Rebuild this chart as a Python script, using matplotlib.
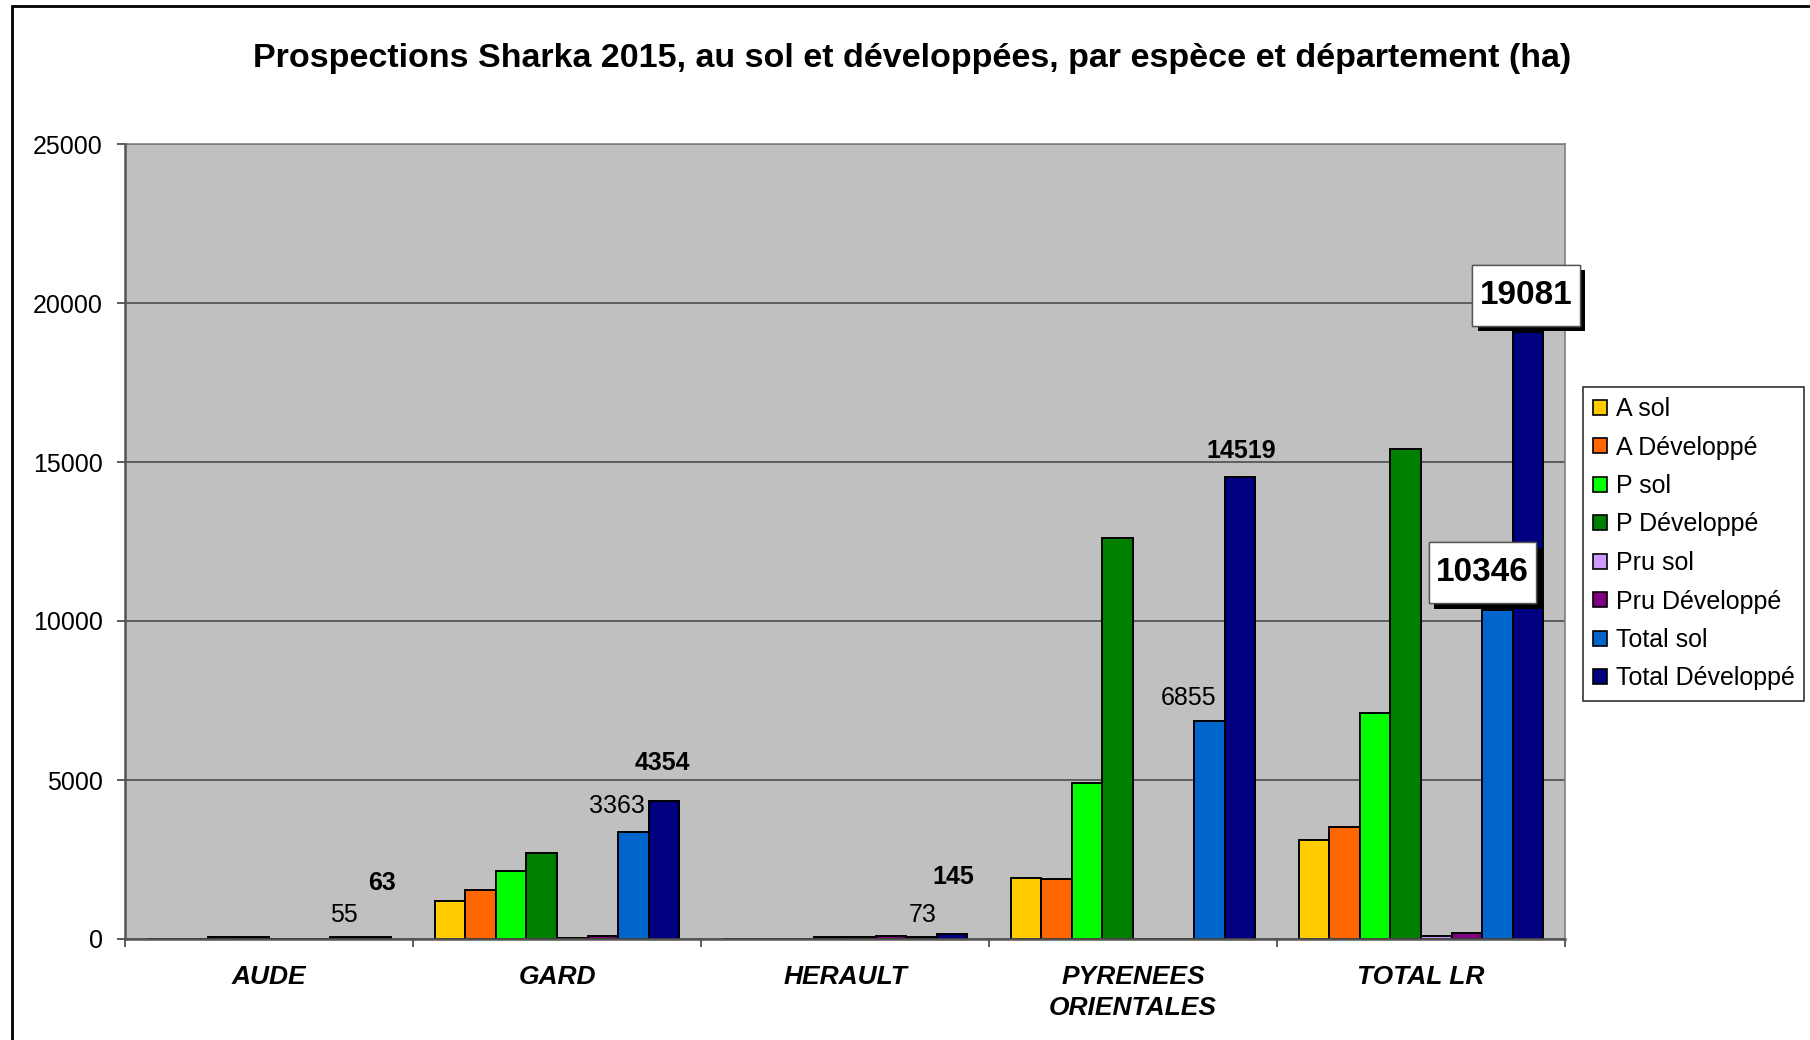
import matplotlib
matplotlib.use('Agg')
import matplotlib.pyplot as plt
import matplotlib.patches as mpatches
import matplotlib.patheffects as pe
from matplotlib.path import Path
import numpy as np

plt.rcParams['font.family'] = ['Liberation Sans', 'DejaVu Sans']

departements = ['AUDE', 'GARD', 'HERAULT', 'PYRENEES\nORIENTALES', 'TOTAL LR']

series_names = ['A sol', 'A Développé', 'P sol', 'P Développé',
                'Pru sol', 'Pru Développé', 'Total sol', 'Total Développé']
a_sol = [0, 1190, 0, 1910, 3100]
a_dev = [0, 1540, 0, 1900, 3510]
p_sol = [55, 2150, 0, 4910, 7120]
p_dev = [63, 2690, 50, 12600, 15420]
pru_sol = [0, 30, 73, 0, 100]
pru_dev = [0, 90, 95, 0, 190]
total_sol = [55, 3363, 73, 6855, 10346]
total_dev = [63, 4354, 145, 14519, 19081]

colors = ['#FFCC00', '#FF6600', '#00FF00', '#008000',
          '#CC99FF', '#800080', '#0066CC', '#000080']

# label offsets in pixels (dx, dy) relative to top centre of the bar
sol_offsets = [(-2, 22), (-17, 26), (1, 22), (-21, 23), (-15, 37)]
dev_offsets = [(6, 54), (-2, 38), (1, 57), (1, 26), (-2, 37)]

W, H = 1810, 1040


def label_box(x0, y0, width, height, mutation_size):
    # square box with more padding vertically than horizontally
    px = 0.22 * mutation_size
    py = 0.45 * mutation_size
    x0, y0 = x0 - px, y0 - py
    x1, y1 = x0 + width + 2 * px, y0 + height + 2 * py
    return Path([(x0, y0), (x1, y0), (x1, y1), (x0, y1), (x0, y0)],
                closed=True)


def main() -> None:
    fig = plt.figure(figsize=(W / 100, H / 100), dpi=100)
    ax = fig.add_axes([125 / W, 1 - 939 / H, 1440 / W, 795 / H])
    ax.set_facecolor('#C0C0C0')

    data = [a_sol, a_dev, p_sol, p_dev, pru_sol, pru_dev, total_sol, total_dev]
    n = len(data)
    width = 0.85 / n
    x = np.arange(len(departements)) + 0.5

    bars = []
    for i, (vals, col, name) in enumerate(zip(data, colors, series_names)):
        pos = x - 0.425 + width * (i + 0.5)
        b = ax.bar(pos, vals, width, color=col, edgecolor='black',
                   linewidth=1.4, label=name, zorder=3)
        bars.append(b)

    # data labels on totals
    for j in range(len(departements)):
        for k, (vals, offs) in enumerate([(total_sol, sol_offsets), (total_dev, dev_offsets)]):
            rect = bars[6 + k][j]
            cx = rect.get_x() + rect.get_width() / 2
            txt = str(vals[j])
            if j == len(departements) - 1:
                t = ax.annotate(txt, (cx, vals[j]), xytext=offs[j],
                                textcoords='offset pixels', ha='center', va='center',
                                fontsize=24, fontweight='bold', zorder=6,
                                annotation_clip=False,
                                bbox=dict(boxstyle=label_box, fc='white',
                                          ec='#555555', lw=1))
                t.set_clip_on(False)
                t.get_bbox_patch().set_path_effects(
                    [pe.withSimplePatchShadow(offset=(4, -4), shadow_rgbFace='black', alpha=1),
                     pe.Normal()])
            else:
                ax.annotate(txt, (cx, vals[j]), xytext=offs[j],
                            textcoords='offset pixels', ha='center', va='center',
                            fontsize=18, fontweight='bold' if k == 1 else 'normal',
                            zorder=5)

    ax.set_xlim(0, len(departements))
    ax.set_ylim(0, 25000)
    ax.set_yticks(np.arange(0, 25001, 5000))
    ax.tick_params(axis='y', direction='out', length=6, width=1.2,
                   color='#404040', labelsize=18, pad=10)
    ax.yaxis.grid(True, color='#555555', linewidth=1.3, zorder=1)
    ax.set_axisbelow(True)

    ax.set_xticks(x)
    ax.set_xticklabels(departements, fontsize=19, fontweight='bold',
                       fontstyle='italic', linespacing=1.35)
    ax.tick_params(axis='x', which='major', length=0, pad=19)
    ax.set_xticks(np.arange(0, len(departements) + 1), minor=True)
    ax.tick_params(axis='x', which='minor', direction='out', length=6,
                   width=1.2, color='#404040')

    for side in ['left', 'bottom']:
        ax.spines[side].set_color('#555555')
        ax.spines[side].set_linewidth(1.8)
        ax.spines[side].set_zorder(4)
    for side in ['top', 'right']:
        ax.spines[side].set_color('#808080')
        ax.spines[side].set_linewidth(1.2)

    fig.text(912 / W, 1 - 58 / H,
             'Prospections Sharka 2015, au sol et développées, par espèce et département (ha)',
             ha='center', va='center', fontsize=24.5, fontweight='bold')

    leg = fig.legend(loc='upper left', bbox_to_anchor=(1583 / W, 1 - 387 / H),
                     fontsize=18, frameon=True, fancybox=False, edgecolor='black',
                     handlelength=0.55, handleheight=0.55, handletextpad=0.35,
                     labelspacing=0.58, borderpad=0.4, borderaxespad=0)
    leg.get_frame().set_linewidth(1.2)
    for h in leg.legend_handles:
        h.set_edgecolor('black')
        h.set_linewidth(1.2)

    # outer chart frame
    fig.patches.append(mpatches.Rectangle((12 / W, -0.1), 1.2, 1.1 - 6 / H,
                                          transform=fig.transFigure, fill=False,
                                          ec='black', lw=2))

    fig.savefig('out.png', dpi=100, facecolor='white')


if __name__ == '__main__':
    main()
